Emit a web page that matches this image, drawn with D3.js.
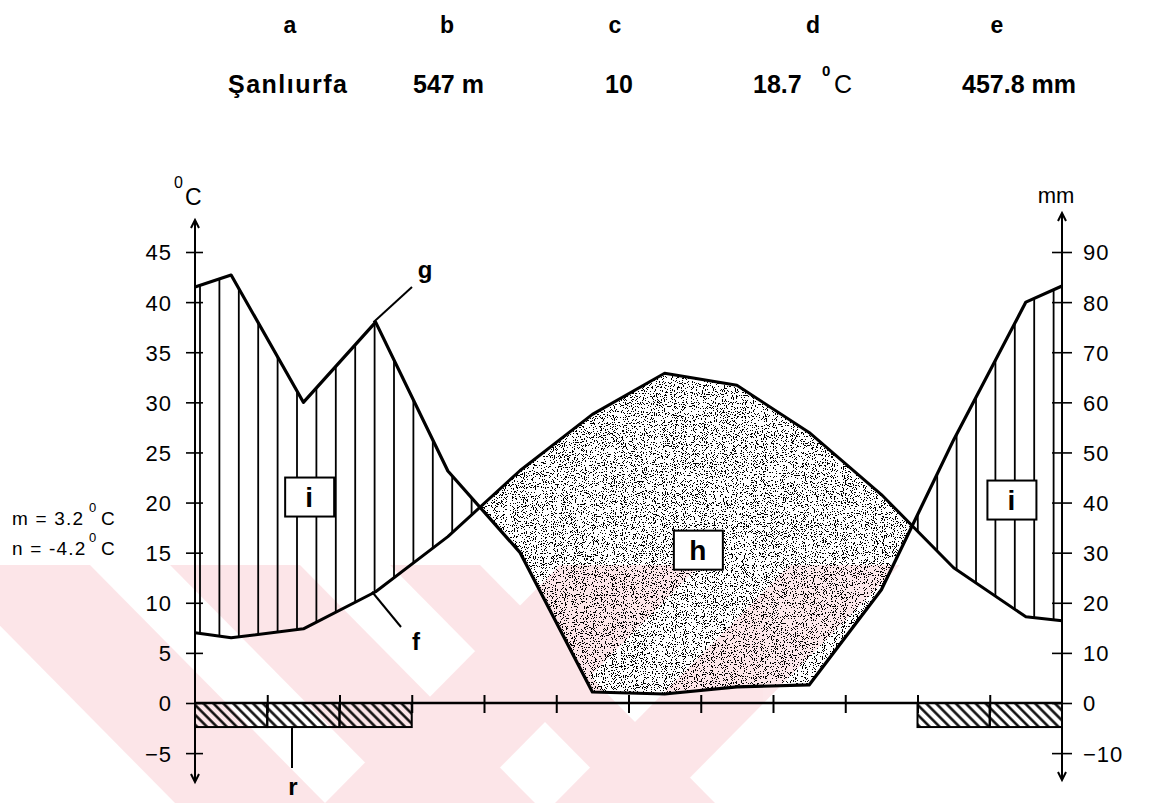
<!DOCTYPE html>
<html>
<head>
<meta charset="utf-8">
<script src="https://cdn.jsdelivr.net/npm/d3@7"></script>
<style>
   body { margin: 0; background: #fff; }
   svg { display: block; }
   text { font-family: "Liberation Sans", Arial, sans-serif; fill: #000; }
</style>
</head>
<body>
<svg id="climate" width="1151" height="803"></svg>
<script>
// DATA
var months = ['Jan', 'Feb', 'Mar', 'Apr', 'May', 'Jun', 'Jul', 'Aug', 'Sep', 'Oct', 'Nov', 'Dec'];
var temperature = [6.5, 7.4, 11.1, 16.6, 23.2, 28.8, 32.9, 31.7, 27.0, 20.8, 13.5, 8.6];      // deg C
var precipitation = [85.4, 60.0, 76.0, 46.3, 30.0, 2.2, 1.8, 3.2, 3.6, 22.6, 52.5, 80.0];     // mm
var temperatureEdges = [7.0, 8.2];     // values where the curve meets the left / right axis
var precipitationEdges = [83.0, 83.2];
var frostMonths = [0, 1, 2, 10, 11];
var frostDepth = -2.4;
var temperatureTicks = [-5, 0, 5, 10, 15, 20, 25, 30, 35, 40, 45];
var precipitationTicks = [-10, 0, 10, 20, 30, 40, 50, 60, 70, 80, 90];
var headerLetters = ['a', 'b', 'c', 'd', 'e'];
var headerValues = ['Şanlıurfa', '547 m', '10', '18.7', '457.8 mm'];
var extremes = [{name: 'm', value: '3.2'}, {name: 'n', value: '-4.2'}];

var svg = d3.select('#climate');
var defs = svg.append('defs');

var x = d3.scaleLinear().domain([0, 12]).range([195, 1062]);
var yTemp = d3.scaleLinear().domain([0, 45]).range([703, 252]);
var yPrec = d3.scaleLinear().domain([0, 90]).range([703, 252]);

// faint pink watermark of the scanned page (chevron stripes)
var watermark = svg.append('g').attr('opacity', 0.11);
var wmTop = 565, wmBottom = 803;
[[-60, 90], [170, 300], [390, 480]].forEach(function (s) {
   watermark.append('path')
      .attr('d', 'M' + s[0] + ',' + wmTop + 'L' + s[1] + ',' + wmTop +
         'L' + (s[1] + 235) + ',' + wmBottom + 'L' + (s[0] + 235) + ',' + wmBottom + 'Z')
      .attr('fill', '#e8203c');
});
[[560, 700], [790, 900]].forEach(function (s) {
   watermark.append('path')
      .attr('d', 'M' + s[0] + ',' + wmTop + 'L' + s[1] + ',' + wmTop +
         'L' + (s[1] - 235) + ',' + wmBottom + 'L' + (s[0] - 235) + ',' + wmBottom + 'Z')
      .attr('fill', '#e8203c');
});

var points = [{pos: 0, t: temperatureEdges[0], p: precipitationEdges[0]}]
   .concat(months.map(function (m, i) {
      return {pos: i + 0.5, t: temperature[i], p: precipitation[i]};
   }))
   .concat([{pos: 12, t: temperatureEdges[1], p: precipitationEdges[1]}]);

var plotTop = 200, plotBottom = 703;

// clip areas on either side of each curve
function addClip(id, edge, yAcc) {
   defs.append('clipPath').attr('id', id).append('path')
      .attr('d', d3.area()
         .x(function (d) { return x(d.pos); })
         .y0(edge)
         .y1(yAcc)(points));
}
addClip('belowPrec', plotBottom, function (d) { return yPrec(d.p); });
addClip('abovePrec', plotTop, function (d) { return yPrec(d.p); });
addClip('belowTemp', plotBottom, function (d) { return yTemp(d.t); });
addClip('aboveTemp', plotTop, function (d) { return yTemp(d.t); });

// stipple texture for the dry season
var stipple = defs.append('filter').attr('id', 'stipple')
   .attr('x', 0).attr('y', 0).attr('width', 1).attr('height', 1)
   .attr('color-interpolation-filters', 'sRGB');
stipple.append('feTurbulence').attr('type', 'fractalNoise')
   .attr('baseFrequency', 0.9).attr('numOctaves', 2).attr('seed', 4).attr('result', 'noise');
stipple.append('feColorMatrix').attr('in', 'noise').attr('type', 'matrix')
   .attr('values', '0 0 0 0 0  0 0 0 0 0  0 0 0 0 0  1 0 0 0 0').attr('result', 'mask');
stipple.append('feComponentTransfer').attr('in', 'mask')
   .append('feFuncA').attr('type', 'discrete')
   .attr('tableValues', '1 1 1 1 1 1 1 1 0 0 0 0 0 0 0 0 0 0 0 0');

// diagonal hatch for the frost bars
defs.append('pattern').attr('id', 'frostHatch')
   .attr('patternUnits', 'userSpaceOnUse')
   .attr('width', 7).attr('height', 7)
   .attr('patternTransform', 'rotate(-45)')
   .append('line')
   .attr('x1', 3.5).attr('x2', 3.5).attr('y1', 0).attr('y2', 7)
   .attr('stroke', '#000').attr('stroke-width', 2.4);

// humid season: vertical hatching between the two curves
svg.append('g').attr('clip-path', 'url(#belowPrec)')
   .append('g').attr('clip-path', 'url(#aboveTemp)')
   .selectAll('line')
   .data(d3.range(x(0) + 5, x(12), 19.4))
   .enter().append('line')
   .attr('x1', function (d) { return d; })
   .attr('x2', function (d) { return d; })
   .attr('y1', plotTop).attr('y2', plotBottom)
   .attr('stroke', '#000').attr('stroke-width', 1.8);

// dry season: stipple
var dry = svg.append('g').attr('clip-path', 'url(#abovePrec)')
   .append('g').attr('clip-path', 'url(#belowTemp)');
dry.append('rect')
   .attr('x', x(0)).attr('y', plotTop)
   .attr('width', x(12) - x(0)).attr('height', plotBottom - plotTop)
   .attr('fill', '#fff')
   .attr('filter', 'url(#stipple)');

// curves
svg.append('path')
   .attr('d', d3.line().x(function (d) { return x(d.pos); }).y(function (d) { return yPrec(d.p); })(points))
   .attr('fill', 'none').attr('stroke', '#000').attr('stroke-width', 3.2).attr('stroke-linejoin', 'round');
svg.append('path')
   .attr('d', d3.line().x(function (d) { return x(d.pos); }).y(function (d) { return yTemp(d.t); })(points))
   .attr('fill', 'none').attr('stroke', '#000').attr('stroke-width', 3).attr('stroke-linejoin', 'round');

// frost months
svg.append('g').selectAll('rect')
   .data(frostMonths)
   .enter().append('rect')
   .attr('x', function (d) { return x(d); })
   .attr('y', yTemp(0))
   .attr('width', function (d) { return x(d + 1) - x(d); })
   .attr('height', yTemp(frostDepth) - yTemp(0))
   .attr('fill', 'url(#frostHatch)')
   .attr('stroke', '#000').attr('stroke-width', 2);

// axes
var leftAxis = svg.append('g')
   .attr('transform', 'translate(' + x(0) + ',0)')
   .call(d3.axisLeft(yTemp).tickValues(temperatureTicks).tickSize(9).tickPadding(14));
leftAxis.selectAll('.tick line').attr('x2', 8).attr('x1', -9).attr('stroke-width', 1.6);
leftAxis.selectAll('.tick text').style('font-size', '22px').attr('letter-spacing', 1).attr('dy', '0.36em');

var rightAxis = svg.append('g')
   .attr('transform', 'translate(' + x(12) + ',0)')
   .call(d3.axisRight(yPrec).tickValues(precipitationTicks).tickSize(10).tickPadding(11));
rightAxis.selectAll('.tick line').attr('x1', -10).attr('stroke-width', 1.6);
rightAxis.selectAll('.tick text').style('font-size', '22px').attr('letter-spacing', 1).attr('dy', '0.36em');

var bottomAxis = svg.append('g')
   .attr('transform', 'translate(0,' + yTemp(0) + ')')
   .call(d3.axisBottom(x).tickValues(d3.range(1, 12)).tickSize(10).tickFormat(''));
bottomAxis.selectAll('.tick line').attr('y1', -8).attr('stroke-width', 2);

svg.selectAll('.domain').remove();

svg.append('line')
   .attr('x1', x(0)).attr('x2', x(12))
   .attr('y1', yTemp(0)).attr('y2', yTemp(0))
   .attr('stroke', '#000').attr('stroke-width', 2.4);

// vertical axis lines with open arrow heads
[{xPos: x(0), top: 220, bottom: 782}, {xPos: x(12), top: 213, bottom: 780}].forEach(function (a) {
   svg.append('line')
      .attr('x1', a.xPos).attr('x2', a.xPos).attr('y1', a.top).attr('y2', a.bottom)
      .attr('stroke', '#000').attr('stroke-width', 2);
   svg.append('path')
      .attr('d', 'M' + (a.xPos - 4) + ',' + (a.top + 8) + 'L' + a.xPos + ',' + a.top + 'L' + (a.xPos + 4) + ',' + (a.top + 8))
      .attr('fill', 'none').attr('stroke', '#000').attr('stroke-width', 2);
   svg.append('path')
      .attr('d', 'M' + (a.xPos - 4) + ',' + (a.bottom - 8) + 'L' + a.xPos + ',' + a.bottom + 'L' + (a.xPos + 4) + ',' + (a.bottom - 8))
      .attr('fill', 'none').attr('stroke', '#000').attr('stroke-width', 2);
});

// unit labels
var degLabel = svg.append('text').attr('x', 174).attr('y', 205).style('font-size', '23px');
degLabel.append('tspan').text('0').style('font-size', '16px').attr('dy', -17);
degLabel.append('tspan').text('C').attr('dy', 17).attr('dx', 2);

svg.append('text').attr('x', 1056).attr('y', 203).attr('text-anchor', 'middle')
   .style('font-size', '22px').text('mm');

// extremes at the left
svg.append('g').selectAll('text')
   .data(extremes)
   .enter().append('text')
   .attr('x', 12)
   .attr('y', function (d, i) { return 525 + i * 30; })
   .style('font-size', '19px')
   .each(function (d) {
      var t = d3.select(this);
      t.append('tspan').attr('letter-spacing', 1.2).text(d.name + ' = ' + d.value);
      t.append('tspan').attr('x', 89).attr('dy', -13).style('font-size', '13px').text('0');
      t.append('tspan').attr('x', 101).attr('dy', 13).text('C');
   });

// region labels (boxed)
var regionLabels = [
   {text: 'i', pos: 1.58, value: 20.6},
   {text: 'i', pos: 11.3, value: 20.3},
   {text: 'h', pos: 6.96, value: 15.3}
];
var boxes = svg.append('g').selectAll('g')
   .data(regionLabels)
   .enter().append('g')
   .attr('transform', function (d) { return 'translate(' + x(d.pos) + ',' + yTemp(d.value) + ')'; });
boxes.append('rect')
   .attr('x', -24).attr('y', -19).attr('width', 49).attr('height', 39)
   .attr('fill', '#fff').attr('stroke', '#000').attr('stroke-width', 2);
boxes.append('text')
   .attr('text-anchor', 'middle').attr('y', 10)
   .style('font-size', '28px').style('font-weight', 'bold')
   .text(function (d) { return d.text; });

// pointer labels f, g, r
var pointers = [
   {text: 'g', x1: x(2.47), y1: yPrec(76), x2: 412, y2: 287, tx: 425, ty: 278},
   {text: 'f', x1: x(2.45), y1: yTemp(11.1), x2: 401, y2: 627, tx: 416, ty: 650},
   {text: 'r', x1: 292, y1: yTemp(frostDepth), x2: 292, y2: 768, tx: 293, ty: 795}
];
pointers.forEach(function (p) {
   svg.append('line')
      .attr('x1', p.x1).attr('y1', p.y1).attr('x2', p.x2).attr('y2', p.y2)
      .attr('stroke', '#000').attr('stroke-width', 2);
   svg.append('text')
      .attr('x', p.tx).attr('y', p.ty).attr('text-anchor', 'middle')
      .style('font-size', '24px').style('font-weight', 'bold')
      .text(p.text);
});

// header
var headerX = [290, 447, 615, 813, 997];
var valueX = [228, 413, 605, 753, 962];
svg.append('g').selectAll('text')
   .data(headerLetters)
   .enter().append('text')
   .attr('x', function (d, i) { return headerX[i]; })
   .attr('y', 33)
   .attr('text-anchor', 'middle')
   .style('font-size', '23px').style('font-weight', 'bold')
   .text(function (d) { return d; });

svg.append('g').selectAll('text')
   .data(headerValues)
   .enter().append('text')
   .attr('x', function (d, i) { return valueX[i]; })
   .attr('y', 93)
   .attr('letter-spacing', function (d, i) { return i === 0 ? 1.5 : 0; })
   .style('font-size', '25px').style('font-weight', 'bold')
   .each(function (d, i) {
      var t = d3.select(this);
      t.append('tspan').text(d);
      if (i === 3) {
         t.append('tspan').attr('x', 822).attr('dy', -17).style('font-size', '15px').text('0');
         t.append('tspan').attr('x', 834).attr('dy', 17).style('font-weight', 'normal').text('C');
      }
   });
</script>
</body>
</html>
